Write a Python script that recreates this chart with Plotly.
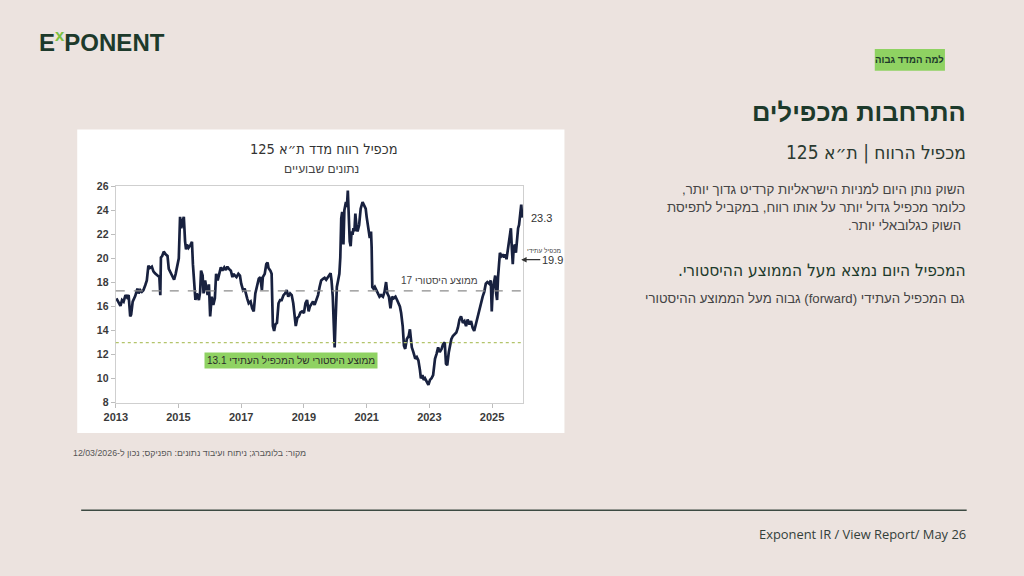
import plotly.graph_objects as go

# ---------------- data ----------------
years = [
    2013.02, 2013.10, 2013.15, 2013.20, 2013.25, 2013.31, 2013.36, 2013.41, 2013.46, 2013.49,
    2013.54, 2013.62, 2013.69, 2013.73, 2013.78, 2013.83, 2013.88, 2013.94, 2013.99, 2014.04,
    2014.09, 2014.15, 2014.20, 2014.25, 2014.30, 2014.36, 2014.39, 2014.42, 2014.44, 2014.48,
    2014.53, 2014.59, 2014.65, 2014.69, 2014.74, 2014.81, 2014.86, 2014.91, 2014.96, 2015.01,
    2015.05, 2015.09, 2015.13, 2015.17, 2015.21, 2015.24, 2015.27, 2015.32, 2015.38, 2015.43,
    2015.46, 2015.51, 2015.54, 2015.58, 2015.65, 2015.69, 2015.72, 2015.77, 2015.80, 2015.85,
    2015.89, 2015.93, 2015.97, 2016.01, 2016.06, 2016.11, 2016.16, 2016.20, 2016.25, 2016.30,
    2016.35, 2016.40, 2016.46, 2016.51, 2016.56, 2016.61, 2016.67, 2016.72, 2016.75, 2016.80,
    2016.85, 2016.91, 2016.96, 2017.00, 2017.06, 2017.11, 2017.15, 2017.19, 2017.24, 2017.30,
    2017.35, 2017.40, 2017.45, 2017.51, 2017.56, 2017.61, 2017.66, 2017.69, 2017.75, 2017.80,
    2017.84, 2017.87, 2017.93, 2017.97, 2018.01, 2018.05, 2018.09, 2018.14, 2018.19, 2018.24,
    2018.29, 2018.35, 2018.40, 2018.45, 2018.50, 2018.56, 2018.61, 2018.66, 2018.71, 2018.74,
    2018.79, 2018.84, 2018.89, 2018.94, 2019.00, 2019.05, 2019.10, 2019.15, 2019.19, 2019.24,
    2019.29, 2019.34, 2019.40, 2019.45, 2019.50, 2019.55, 2019.61, 2019.66, 2019.71, 2019.76,
    2019.82, 2019.85, 2019.88, 2019.92, 2019.95, 2019.98, 2020.01, 2020.05, 2020.09, 2020.13,
    2020.16, 2020.19, 2020.22, 2020.26, 2020.29, 2020.34, 2020.37, 2020.40, 2020.42, 2020.46,
    2020.49, 2020.52, 2020.55, 2020.58, 2020.61, 2020.64, 2020.68, 2020.71, 2020.76, 2020.81,
    2020.87, 2020.92, 2020.97, 2021.00, 2021.05, 2021.10, 2021.14, 2021.16, 2021.18, 2021.22,
    2021.26, 2021.31, 2021.36, 2021.41, 2021.46, 2021.52, 2021.57, 2021.62, 2021.66, 2021.71,
    2021.76, 2021.81, 2021.86, 2021.92, 2021.97, 2022.02, 2022.06, 2022.10, 2022.15, 2022.19,
    2022.23, 2022.28, 2022.34, 2022.38, 2022.41, 2022.44, 2022.49, 2022.55, 2022.60, 2022.65,
    2022.70, 2022.73, 2022.78, 2022.82, 2022.86, 2022.91, 2022.97, 2023.02, 2023.07, 2023.12,
    2023.18, 2023.23, 2023.28, 2023.33, 2023.39, 2023.44, 2023.49, 2023.53, 2023.57, 2023.62,
    2023.66, 2023.70, 2023.75, 2023.80, 2023.86, 2023.91, 2023.96, 2024.01, 2024.07, 2024.12,
    2024.17, 2024.22, 2024.28, 2024.33, 2024.38, 2024.43, 2024.49, 2024.54, 2024.59, 2024.64,
    2024.70, 2024.75, 2024.80, 2024.85, 2024.91, 2024.96, 2024.99, 2025.02, 2025.06, 2025.10,
    2025.13, 2025.16, 2025.19, 2025.22, 2025.25, 2025.30, 2025.34, 2025.38, 2025.42, 2025.46,
    2025.51, 2025.54, 2025.57, 2025.60, 2025.63, 2025.66, 2025.69, 2025.73, 2025.76, 2025.80,
    2025.83, 2025.86, 2025.89, 2025.93, 2025.96,
]
pe = [
    16.68, 16.22, 16.05, 16.54, 16.41, 16.95, 16.76, 16.95, 15.18, 15.32,
    16.41, 16.87, 17.49, 17.09, 17.36, 17.22, 17.36, 17.77, 18.17, 19.40,
    19.21, 19.32, 18.93, 18.77, 18.66, 18.58, 18.45, 16.95, 20.08, 20.21,
    20.57, 20.35, 20.21, 19.13, 18.85, 18.45, 18.23, 18.72, 19.40, 20.02,
    23.47, 22.52, 23.12, 23.47, 21.43, 20.76, 21.16, 20.89, 21.11, 21.38,
    19.53, 17.36, 16.54, 17.09, 16.54, 17.22, 18.99, 18.58, 17.09, 18.17,
    17.63, 16.95, 17.85, 15.18, 16.82, 16.14, 16.68, 18.72, 18.17, 18.85,
    19.26, 18.99, 19.26, 19.04, 19.32, 19.13, 18.99, 18.45, 18.72, 18.58,
    18.45, 18.72, 18.58, 17.90, 17.36, 17.49, 16.95, 16.68, 16.27, 16.41,
    15.86, 15.59, 17.09, 17.90, 18.31, 18.45, 17.36, 18.45, 18.72, 19.53,
    19.67, 19.21, 18.99, 18.72, 14.37, 13.96, 14.51, 14.64, 16.27, 16.54,
    16.54, 16.95, 17.09, 17.36, 16.82, 17.09, 16.95, 16.27, 15.32, 14.37,
    15.05, 15.18, 15.51, 15.59, 15.46, 16.27, 16.54, 15.59, 16.00, 16.27,
    16.41, 16.14, 16.68, 16.95, 17.63, 18.17, 18.31, 18.39, 18.23, 18.45,
    18.72, 18.77, 18.17, 16.82, 14.64, 12.60, 14.91, 17.63, 18.17, 18.72,
    20.08, 23.34, 23.88, 21.16, 24.02, 24.70, 24.29, 25.65, 24.29, 21.43,
    21.03, 22.25, 21.98, 22.52, 22.25, 23.74, 22.52, 22.25, 22.79, 24.15,
    24.70, 24.48, 24.15, 23.47, 22.52, 21.71, 22.25, 20.89, 17.63, 17.49,
    17.63, 17.36, 17.09, 16.82, 16.95, 16.82, 17.22, 18.04, 17.09, 16.82,
    15.86, 16.82, 16.68, 16.82, 16.54, 16.27, 16.00, 15.46, 14.37, 12.74,
    12.47, 13.28, 13.55, 14.10, 13.01, 12.60, 12.20, 11.65, 11.79, 11.52,
    10.70, 10.02, 10.29, 9.89, 10.02, 9.75, 9.48, 9.89, 10.02, 10.29,
    11.65, 12.06, 12.60, 12.20, 12.47, 12.88, 13.01, 11.24, 11.11, 12.20,
    12.74, 13.28, 13.55, 13.69, 13.83, 14.23, 14.91, 15.18, 14.64, 14.78,
    14.37, 14.91, 14.51, 14.78, 14.23, 13.96, 14.64, 15.18, 15.73, 16.14,
    16.82, 17.22, 17.90, 18.04, 17.90, 18.17, 15.59, 17.36, 18.17, 18.58,
    17.09, 16.54, 18.45, 19.26, 20.48, 20.21, 20.35, 20.08, 20.35, 19.94,
    20.89, 21.30, 21.98, 22.52, 20.89, 19.53, 20.89, 21.16, 20.48, 21.98,
    22.52, 22.79, 23.74, 24.48, 23.40,
]
hist_avg_line = 17.3
fwd_avg_line = 13.0
hist_avg_label = "17"
fwd_avg_label = "13.1"
last_pe_label = "23.3"
fwd_pe_now = 19.9
x_ticks = [2013, 2015, 2017, 2019, 2021, 2023, 2025]
y_ticks = [8, 10, 12, 14, 16, 18, 20, 22, 24, 26]

W, H = 1024, 576
BG = "#ece3df"
DARK_GREEN = "#1d3a2b"
GREEN_TAG = "#8fd262"
NAVY = "#18213f"
HEB = "Liberation Sans, DejaVu Sans, Arial, sans-serif"
HEB_C = "DejaVu Sans Condensed, Liberation Sans, sans-serif"


def rtl(s):
    return "\u202B" + s + "\u202C"


def px(x):
    return x / W


def py(y):
    return 1 - y / H


fig = go.Figure()
fig.add_trace(go.Scatter(x=years, y=pe, mode="lines",
                         line=dict(color=NAVY, width=2.7), hoverinfo="skip",
                         showlegend=False))

# average lines
fig.add_shape(type="line", xref="x domain", yref="y", x0=0, x1=1,
              y0=hist_avg_line, y1=hist_avg_line,
              line=dict(color="#8c8c8c", width=1.2, dash="dash"))
fig.add_shape(type="line", xref="x domain", yref="y", x0=0, x1=1,
              y0=fwd_avg_line, y1=fwd_avg_line,
              line=dict(color="#b3c46a", width=1.2, dash="dot"))

# white chart card
fig.add_shape(type="rect", xref="paper", yref="paper", layer="below",
              x0=px(66), x1=px(559), y0=py(436), y1=py(126),
              fillcolor="white", line=dict(width=0))
# green tag box
fig.add_shape(type="rect", xref="paper", yref="paper", layer="below",
              x0=px(873), x1=px(944), y0=py(66), y1=py(44),
              fillcolor=GREEN_TAG, line=dict(width=0))
# bottom rule
fig.add_shape(type="line", xref="paper", yref="paper",
              x0=px(70), x1=px(966), y0=py(515), y1=py(515),
              line=dict(color="#3c4a42", width=1.5))

ann = []
# logo
ann.append(dict(xref="paper", yref="paper", x=px(25), y=py(36), xanchor="left", yanchor="middle",
                text="E<span style='color:#7cc242'><sup>x</sup></span>PONENT",
                font=dict(family="Liberation Sans, Arial", size=24, color=DARK_GREEN, weight="bold"),
                showarrow=False))
# green tag text
ann.append(dict(xref="paper", yref="paper", x=px(908.5), y=py(55), xanchor="center", yanchor="middle",
                text=rtl("למה המדד גבוה"),
                font=dict(family=HEB, size=9.6, color=DARK_GREEN, weight="bold"), showarrow=False))
# titles on the right
ann.append(dict(xref="paper", yref="paper", x=px(967), y=py(108), xanchor="right", yanchor="middle",
                text=rtl("התרחבות מכפילים"),
                font=dict(family=HEB, size=25.5, color=DARK_GREEN, weight="bold"), showarrow=False))
ann.append(dict(xref="paper", yref="paper", x=px(967), y=py(150), xanchor="right", yanchor="middle",
                text=rtl("מכפיל הרווח | ת״א 125"),
                font=dict(family=HEB_C, size=19, color="#2b3a31"), showarrow=False))
para = ["השוק נותן היום למניות הישראליות קרדיט גדוך יותר,",
        "כלומר מכפיל גדול יותר על אותו רווח, במקביל לתפיסת",
        " השוק כגלובאלי יותר."]
for i, line in enumerate(para):
    ann.append(dict(xref="paper", yref="paper", x=px(966), y=py(187 + 18.5 * i), xanchor="right",
                    yanchor="middle", text=rtl(line),
                    font=dict(family=HEB, size=13.3, color="#444444"), showarrow=False))
ann.append(dict(xref="paper", yref="paper", x=px(967), y=py(270), xanchor="right", yanchor="middle",
                text=rtl("המכפיל היום נמצא מעל הממוצע ההיסטורי."),
                font=dict(family=HEB_C, size=17.2, color=DARK_GREEN), showarrow=False))
ann.append(dict(xref="paper", yref="paper", x=px(966), y=py(299), xanchor="right", yanchor="middle",
                text=rtl("גם המכפיל העתידי (forward) גבוה מעל הממוצע ההיסטורי"),
                font=dict(family=HEB, size=13.2, color="#444444"), showarrow=False))
# footnote
ann.append(dict(xref="paper", yref="paper", x=px(300), y=py(457), xanchor="right", yanchor="middle",
                text=rtl("מקור: בלומברג; ניתוח ועיבוד נתונים: הפניקס; נכון ל-12/03/2026"),
                font=dict(family=HEB, size=8.8, color="#555555"), showarrow=False))
# footer
ann.append(dict(xref="paper", yref="paper", x=px(967), y=py(539), xanchor="right", yanchor="middle",
                text="Exponent IR / View Report/ May 26",
                font=dict(family="Open Sans, Noto Sans, sans-serif", size=12.9, color="#33403a"),
                showarrow=False))
# chart title
ann.append(dict(xref="paper", yref="paper", x=px(316), y=py(146), xanchor="center", yanchor="middle",
                text=rtl("מכפיל רווח מדד ת״א 125"),
                font=dict(family=HEB_C, size=14.5, color="#333333"), showarrow=False))
ann.append(dict(xref="paper", yref="paper", x=px(313), y=py(166), xanchor="center", yanchor="middle",
                text=rtl("נתונים שבועיים"),
                font=dict(family=HEB, size=12, color="#444444"), showarrow=False))
# chart labels
ann.append(dict(xref="paper", yref="y", x=px(433), y=hist_avg_line + 0.85, xanchor="center",
                yanchor="middle", text=rtl("ממוצע היסטורי " + hist_avg_label),
                font=dict(family=HEB, size=10, color="#444444"), showarrow=False))
ann.append(dict(xref="paper", yref="y", x=px(282), y=fwd_avg_line - 1.5, xanchor="center",
                yanchor="middle", text=rtl("ממוצע היסטורי של המכפיל העתידי " + fwd_avg_label),
                font=dict(family=HEB, size=10, color="#2a2a2a"), bgcolor=GREEN_TAG, borderpad=2,
                showarrow=False))
ann.append(dict(xref="paper", yref="y", x=px(523), y=pe[-1], xanchor="left", yanchor="middle",
                text=last_pe_label, font=dict(family=HEB, size=11, color="#333333"),
                showarrow=False))
ann.append(dict(xref="paper", yref="y", x=px(538), y=fwd_pe_now + 0.8, xanchor="center",
                yanchor="middle", text=rtl("מכפיל עתידי"),
                font=dict(family=HEB, size=6.5, color="#444444"), showarrow=False))
ann.append(dict(xref="x", yref="y", x=2025.93, y=fwd_pe_now, ax=31, ay=0,
                text=str(fwd_pe_now), font=dict(family=HEB, size=11, color="#333333"),
                showarrow=True, arrowhead=2, arrowsize=0.9, arrowwidth=1.2,
                arrowcolor="#333333", standoff=0, startstandoff=0))

fig.update_layout(
    width=W, height=H,
    margin=dict(l=0, r=0, t=0, b=0),
    paper_bgcolor=BG, plot_bgcolor="white",
    annotations=ann,
    xaxis=dict(domain=[px(105), px(517.5)], range=[2013, 2026], tickvals=x_ticks,
               ticktext=[str(t) for t in x_ticks], showgrid=False, zeroline=False,
               showline=True, mirror=True, linecolor="#cfcfcf", linewidth=1.3,
               ticks="outside", ticklen=4, tickcolor="#bdbdbd",
               tickfont=dict(family="Liberation Sans, Arial", size=11, color="#3a3a3a",
                             weight="bold")),
    yaxis=dict(domain=[py(405), py(184.3)], range=[8, 26], tickvals=y_ticks,
               showgrid=False, zeroline=False, showline=True, mirror=True,
               linecolor="#cfcfcf", linewidth=1.3, ticks="outside", ticklen=4,
               tickcolor="#bdbdbd",
               tickfont=dict(family="Liberation Sans, Arial", size=10.5, color="#3a3a3a",
                             weight="bold")),
)

fig.write_html("out.html")
